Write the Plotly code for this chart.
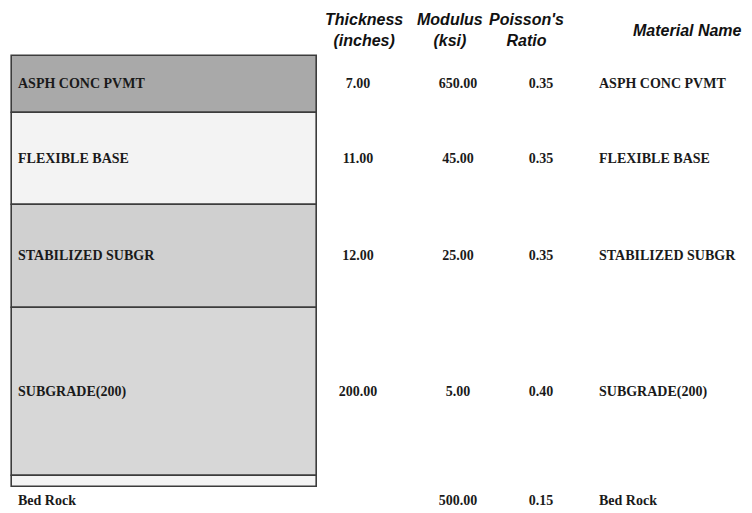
import plotly.graph_objects as go

# =========================
# DATA
# =========================
layer_names = ["ASPH CONC PVMT", "FLEXIBLE BASE", "STABILIZED SUBGR", "SUBGRADE(200)", "Bed Rock"]
thickness_in = [7.00, 11.00, 12.00, 200.00, None]
modulus_ksi = [650.00, 45.00, 25.00, 5.00, 500.00]
poisson_ratio = [0.35, 0.35, 0.35, 0.40, 0.15]
# layer heights as drawn in the section sketch (not to scale)
drawn_height = [57, 92, 103, 168, 11]

headers = ["Thickness<br>(inches)", "Modulus<br>(ksi)", "Poisson's<br>Ratio", "Material Name"]

# =========================
# STYLE
# =========================
layer_fill = ["#a9a9a9", "#f3f3f3", "#d0d0d0", "#d7d7d7", "#f4f4f4"]
serif = dict(family="Liberation Serif", size=14, color="#1a1a1a")
head_font = dict(family="Liberation Sans", size=16, color="#111111")

box_left, box_right = 12, 317
col_x = [358, 458, 541, 599]
header_x = [364, 450, 526, 687]

bases = []
acc = 0
for h in drawn_height:
    bases.append(acc)
    acc += h
row_y = [b + h / 2 for b, h in zip(bases, drawn_height)]
row_y[-1] = bases[-1] + drawn_height[-1] + 14

fig = go.Figure()

# Layer boxes
fig.add_trace(
    go.Bar(
        x=[(box_left + box_right) / 2] * len(layer_names),
        y=drawn_height,
        base=bases,
        width=box_right - box_left,
        marker=dict(color=layer_fill, line=dict(color="#3c3c3c", width=1.6)),
        hoverinfo="skip",
        showlegend=False
    )
)

# Labels inside the boxes (Bed Rock sits under the box)
fig.add_trace(
    go.Scatter(
        x=[18] * len(layer_names),
        y=row_y,
        mode="text",
        text=["<b>" + n + "</b>" for n in layer_names],
        textposition="middle right",
        textfont=serif,
        hoverinfo="skip",
        showlegend=False
    )
)

# Table columns
columns = [
    ["" if t is None else f"<b>{t:.2f}</b>" for t in thickness_in],
    [f"<b>{m:.2f}</b>" for m in modulus_ksi],
    [f"<b>{p:.2f}</b>" for p in poisson_ratio],
    ["<b>" + n + "</b>" for n in layer_names],
]
for i, col in enumerate(columns):
    fig.add_trace(
        go.Scatter(
            x=[col_x[i]] * len(col),
            y=row_y,
            mode="text",
            text=col,
            textposition="middle right" if i == 3 else "middle center",
            textfont=serif,
            hoverinfo="skip",
            showlegend=False
        )
    )

# Column headers
for i, h in enumerate(headers):
    fig.add_annotation(
        x=header_x[i],
        y=-26,
        text="<b><i>" + h + "</i></b>",
        showarrow=False,
        font=head_font,
        align="center",
        xanchor="center",
        yanchor="middle"
    )

# page body has an 8px margin, so the figure is 8px smaller and ranges start at 8
fig.update_layout(
    width=744,
    height=505,
    margin=dict(l=0, r=0, t=0, b=0),
    paper_bgcolor="white",
    plot_bgcolor="white",
    bargap=0
)
fig.update_xaxes(range=[8, 752], visible=False, fixedrange=True)
fig.update_yaxes(range=[457, -48], visible=False, fixedrange=True)

fig.write_html("out.html")
